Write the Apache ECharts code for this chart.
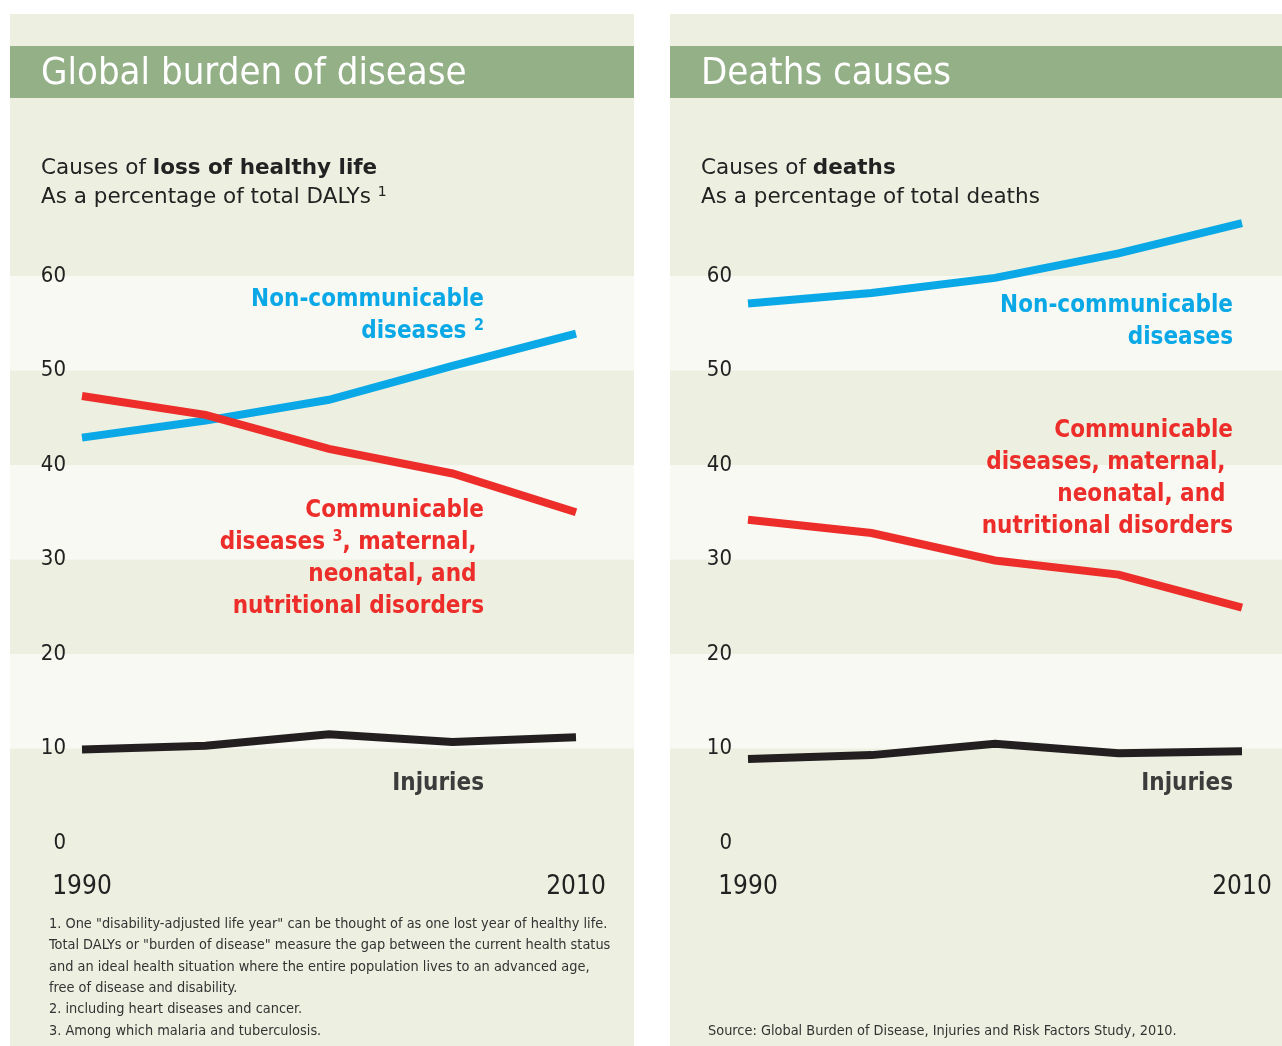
<!DOCTYPE html>
<html>
<head>
<meta charset="utf-8">
<script src="https://cdn.jsdelivr.net/npm/echarts@6/dist/echarts.min.js"></script>
<style>
  html, body { margin: 0; padding: 0; background: #ffffff; }
  #chart { width: 1282px; height: 1046px; }
</style>
</head>
<body>
<div id="chart"></div>
<script>
// Survey years (x categories); only the first and last are labelled
const years = ['1990', '1995', '2000', '2005', '2010'];
const labelledYears = ['1990', '2010'];

// Value axis (percent)
const yMin = 0;
const yMax = 60;
const yStep = 10;
// Alternating light bands [low, high]
const bandRanges = [[50, 60], [30, 40], [10, 20]];

// Share of total DALYs, %
const dalyNonCommunicable = [42.9, 44.7, 46.9, 50.5, 53.9];
const dalyCommunicable    = [47.3, 45.3, 41.7, 39.1, 35.0];
const dalyInjuries        = [9.9, 10.3, 11.5, 10.7, 11.2];

// Share of total deaths, %
const deathNonCommunicable = [57.1, 58.2, 59.8, 62.4, 65.6];
const deathCommunicable    = [34.2, 32.8, 29.9, 28.4, 24.9];
const deathInjuries        = [8.9, 9.3, 10.5, 9.5, 9.7];

const PANEL_BG = '#EDF0E0';
const BAND_BG = '#F7F9F2';
const TITLE_BG = '#93B087';
const BLUE = '#0AA8E6';
const RED = '#EC2D2A';
const INK = '#231F20';
const COND = '"DejaVu Sans Condensed", "DejaVu Sans", sans-serif';
const SANS = '"DejaVu Sans", sans-serif';
const NARROW = '"Liberation Sans Narrow", "DejaVu Sans Condensed", sans-serif';

const chart = echarts.init(document.getElementById('chart'), null, { renderer: 'canvas' });

const panels = [
  { x: 10, w: 624, gridLeft: 82 },
  { x: 670, w: 612, gridLeft: 748 }
];

function makeX(i) {
  return {
    gridIndex: i,
    type: 'category',
    data: years,
    boundaryGap: false,
    axisLine: { show: false },
    axisTick: { show: false },
    splitLine: { show: false },
    axisLabel: {
      interval: (idx, val) => labelledYears.indexOf(val) !== -1,
      fontFamily: COND,
      fontSize: 26,
      color: '#222222',
      margin: 31
    }
  };
}

function makeY(i) {
  return {
    gridIndex: i,
    type: 'value',
    min: yMin,
    max: yMax,
    interval: yStep,
    axisLine: { show: false },
    axisTick: { show: false },
    splitLine: { show: false },
    axisLabel: {
      fontFamily: COND,
      fontSize: 22,
      color: '#222222',
      margin: 16
    }
  };
}

function makeLine(i, data, color) {
  return {
    type: 'line',
    xAxisIndex: i,
    yAxisIndex: i,
    data: data,
    showSymbol: false,
    symbol: 'none',
    silent: true,
    clip: false,
    lineStyle: { width: 8, color: color, cap: 'butt', join: 'miter' },
    z: 5
  };
}

chart.setOption({
  animation: false,
  backgroundColor: '#ffffff',
  grid: panels.map(p => ({ left: p.gridLeft, width: 494, top: 276, height: 567 })),
  xAxis: [makeX(0), makeX(1)],
  yAxis: [makeY(0), makeY(1)],
  series: [
    makeLine(0, dalyNonCommunicable, BLUE),
    makeLine(0, dalyCommunicable, RED),
    makeLine(0, dalyInjuries, INK),
    makeLine(1, deathNonCommunicable, BLUE),
    makeLine(1, deathCommunicable, RED),
    makeLine(1, deathInjuries, INK)
  ]
});

function txt(x, y, text, opts) {
  const o = opts || {};
  return {
    type: 'text',
    x: x,
    y: y,
    z: 20,
    silent: true,
    style: Object.assign({
      text: text,
      fill: '#222222',
      fontFamily: COND,
      fontSize: 22,
      align: o.align || 'left',
      textAlign: o.align || 'left',
      verticalAlign: 'middle',
      textVerticalAlign: 'middle'
    }, o.style || {})
  };
}

const g = [];

// Panel backgrounds, title bars and light value bands
panels.forEach((p, i) => {
  g.push({ type: 'rect', z: -10, silent: true,
    shape: { x: p.x, y: 14, width: p.w, height: 1046 - 14 },
    style: { fill: PANEL_BG } });
  g.push({ type: 'rect', z: -8, silent: true,
    shape: { x: p.x, y: 46, width: p.w, height: 52 },
    style: { fill: TITLE_BG } });
  bandRanges.forEach(r => {
    const top = chart.convertToPixel({ yAxisIndex: i }, r[1]);
    const bottom = chart.convertToPixel({ yAxisIndex: i }, r[0]);
    g.push({ type: 'rect', z: -9, silent: true,
      shape: { x: p.x, y: top, width: p.w, height: bottom - top },
      style: { fill: BAND_BG } });
  });
});

// Titles
g.push(txt(41, 74, 'Global burden of disease', { style: { fill: '#ffffff', fontSize: 38, fontFamily: COND } }));
g.push(txt(701, 74, 'Deaths causes', { style: { fill: '#ffffff', fontSize: 38, fontFamily: COND } }));

// Subtitles
const subRich = {
  b: { fontFamily: SANS, fontSize: 21.5, fontWeight: 'bold', fill: '#222222' },
  sup: { fontFamily: SANS, fontSize: 14, fill: '#222222', padding: [0, 0, 10, 0] }
};
const subStyle = { fontFamily: SANS, fontSize: 21.5, rich: subRich };
g.push(txt(41, 168, 'Causes of {b|loss of healthy life}', { style: subStyle }));
g.push(txt(41, 197, 'As a percentage of total DALYs {sup|1}', { style: subStyle }));
g.push(txt(701, 168, 'Causes of {b|deaths}', { style: subStyle }));
g.push(txt(701, 197, 'As a percentage of total deaths', { style: subStyle }));

// Series labels
function seriesLabel(x, y, text, color) {
  return txt(x, y, text, {
    align: 'right',
    style: {
      fill: color,
      fontFamily: COND,
      fontSize: 24,
      fontWeight: 'bold',
      lineHeight: 32,
      rich: {
        sup: { fontFamily: COND, fontSize: 16, fontWeight: 'bold', fill: color, padding: [0, 0, 12, 0] }
      }
    }
  });
}
g.push(seriesLabel(484, 316, 'Non-communicable\ndiseases {sup|2}', BLUE));
g.push(seriesLabel(484, 559, 'Communicable\ndiseases {sup|3}, maternal, \nneonatal, and \nnutritional disorders', RED));
g.push(seriesLabel(484, 784, 'Injuries', '#3C3C3C'));
g.push(seriesLabel(1233, 322, 'Non-communicable\ndiseases', BLUE));
g.push(seriesLabel(1233, 479, 'Communicable\ndiseases, maternal, \nneonatal, and \nnutritional disorders', RED));
g.push(seriesLabel(1233, 784, 'Injuries', '#3C3C3C'));

// Notes
const notes = [
  '1. One "disability-adjusted life year" can be thought of as one lost year of healthy life.',
  'Total DALYs or "burden of disease" measure the gap between the current health status',
  'and an ideal health situation where the entire population lives to an advanced age,',
  'free of disease and disability.',
  '2. including heart diseases and cancer.',
  '3. Among which malaria and tuberculosis.'
];
notes.forEach((line, k) => {
  g.push(txt(49, 924 + k * 21.4, line, { style: { fontFamily: NARROW, fontSize: 14.4, fill: '#333333' } }));
});
g.push(txt(708, 1031, 'Source: Global Burden of Disease, Injuries and Risk Factors Study, 2010.',
  { style: { fontFamily: NARROW, fontSize: 14.4, fill: '#333333' } }));

chart.setOption({ graphic: { elements: g } });
</script>
</body>
</html>
